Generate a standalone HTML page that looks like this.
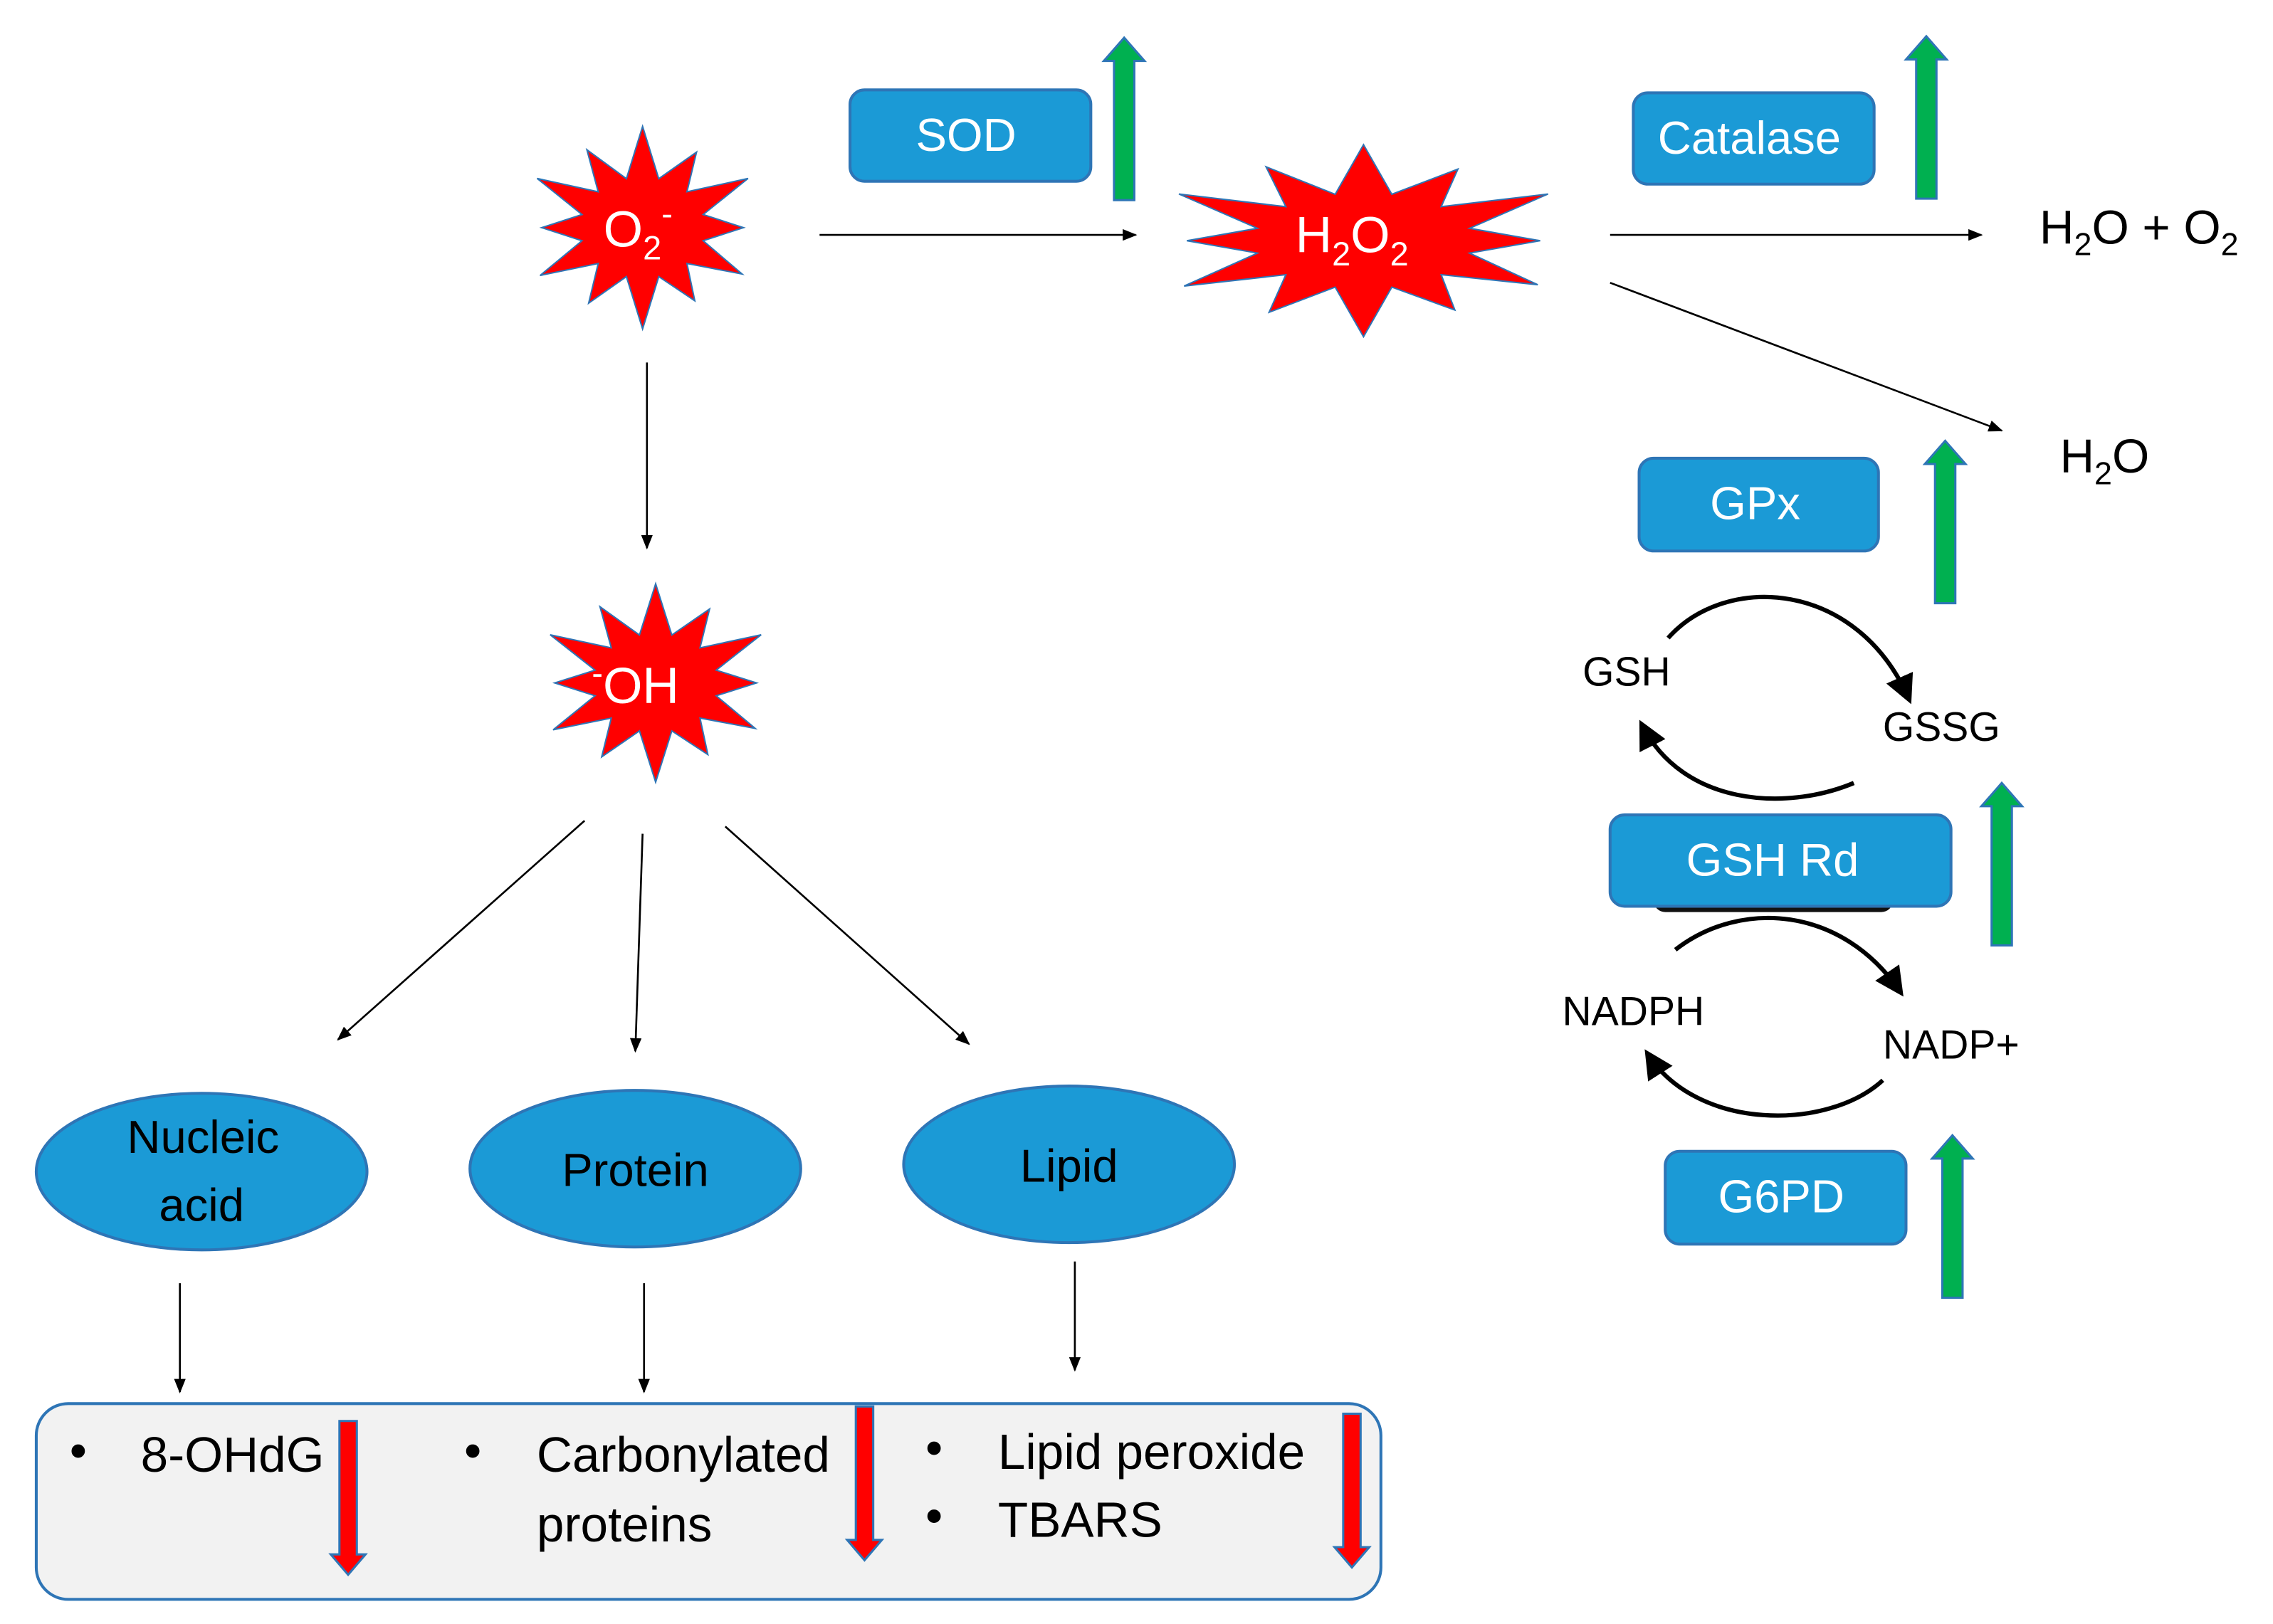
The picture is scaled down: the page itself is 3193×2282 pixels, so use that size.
<!DOCTYPE html>
<html><head><meta charset="utf-8">
<style>
html,body{margin:0;padding:0;background:#fff;}
svg{display:block;}
text{font-family:"Liberation Sans",sans-serif;}
</style></head>
<body>
<svg width="3193" height="2282" viewBox="0 0 1567 1120" preserveAspectRatio="none" xmlns="http://www.w3.org/2000/svg">
<defs>
<marker id="a" markerWidth="10" markerHeight="8" refX="9" refY="4" orient="auto" markerUnits="userSpaceOnUse">
<path d="M0,0 L10,4 L0,8 z" fill="#000"/></marker>
<marker id="b" markerWidth="22" markerHeight="20" refX="16" refY="10" orient="auto" markerUnits="userSpaceOnUse">
<path d="M0,0 L20,10 L0,20 z" fill="#000"/></marker>
<g id="ga"><path d="M-7,0 L-7,-96 L-14,-96 L0,-112 L14,-96 L7,-96 L7,0 z" fill="#00b050" stroke="#2e75b6" stroke-width="1.5"/></g>
<g id="ra"><path d="M-6,0 L-6,92 L-12,92 L0,106 L12,92 L6,92 L6,0 z" fill="#ff0000" stroke="#2e75b6" stroke-width="1.5"/></g>
<polygon id="st" points="443,85 452.3,122.2 474,103.3 468.5,131.5 503.6,122 477.8,147.7 501,157 477.8,166.3 500.2,190 468.5,182.5 473,209 452.3,191.8 443,229 433.7,191.8 412,210.7 417.5,182.5 384.1,191 408.2,166.3 385,157 408.2,147.7 382.4,122 417.5,131.5 411,101.6 433.7,122.2" fill="#ff0000" stroke="#2e75b6" stroke-width="2" vector-effect="non-scaling-stroke"/>
</defs>

<use href="#st" transform="translate(443,157) scale(1.2,0.97) translate(-443,-157)"/>
<use href="#st" transform="translate(452,471) scale(1.2,0.95) translate(-443,-157)"/>
<use href="#st" transform="translate(940,166) scale(2.1,0.92) translate(-443,-157)"/>

<text x="416" y="170" font-size="35" fill="#fff">O<tspan font-size="23" dy="9">2</tspan><tspan font-size="23" dy="-24">-</tspan></text>
<text x="893" y="174" font-size="35" fill="#fff">H<tspan font-size="23" dy="9">2</tspan><tspan dy="-9">O</tspan><tspan font-size="23" dy="9">2</tspan></text>
<text x="408" y="485" font-size="35" fill="#fff"><tspan font-size="23" dy="-13">-</tspan><tspan dy="13">OH</tspan></text>

<g stroke="#2e75b6" stroke-width="2" fill="#1b9ad6">
<rect x="586" y="62" width="166" height="63" rx="10"/>
<rect x="1126" y="64" width="166" height="63" rx="10"/>
<rect x="1130" y="316" width="165" height="64" rx="10"/>
<rect x="1140" y="612" width="165" height="17" rx="8" fill="#111" stroke="none"/>
<rect x="1110" y="562" width="235" height="63" rx="10"/>
<rect x="1148" y="794" width="166" height="64" rx="10"/>
<ellipse cx="139" cy="808" rx="114" ry="54"/>
<ellipse cx="438" cy="806" rx="114" ry="54"/>
<ellipse cx="737" cy="803" rx="114" ry="54"/>
</g>
<g fill="#fff" font-size="32" text-anchor="middle">
<text x="666" y="104">SOD</text>
<text x="1206" y="106">Catalase</text>
<text x="1210" y="358">GPx</text>
<text x="1222" y="604">GSH Rd</text>
<text x="1228" y="836">G6PD</text>
</g>
<g fill="#000" font-size="32" text-anchor="middle">
<text x="140" y="795">Nucleic</text>
<text x="139" y="842">acid</text>
<text x="438" y="818">Protein</text>
<text x="737" y="815">Lipid</text>
</g>

<use href="#ga" transform="translate(775,138)"/>
<use href="#ga" transform="translate(1328,137)"/>
<use href="#ga" transform="translate(1341,416)"/>
<use href="#ga" transform="translate(1380,652)"/>
<use href="#ga" transform="translate(1346,895)"/>

<g stroke="#000" stroke-width="1.3" marker-end="url(#a)">
<line x1="565" y1="162" x2="783" y2="162"/>
<line x1="1110" y1="162" x2="1366" y2="162"/>
<line x1="1110" y1="195" x2="1380" y2="297"/>
<line x1="446" y1="250" x2="446" y2="378"/>
<line x1="403" y1="566" x2="233" y2="717"/>
<line x1="443" y1="575" x2="438" y2="725"/>
<line x1="500" y1="570" x2="668" y2="720"/>
<line x1="124" y1="885" x2="124" y2="960"/>
<line x1="444" y1="885" x2="444" y2="960"/>
<line x1="741" y1="870" x2="741" y2="945"/>
</g>

<g stroke="#000" stroke-width="3" fill="none" marker-end="url(#b)">
<path d="M1150,440 C1190,395 1280,400 1316,482"/>
<path d="M1278,540 C1230,560 1160,555 1132,500"/>
<path d="M1155,655 C1200,620 1270,625 1310,684"/>
<path d="M1298,745 C1260,780 1170,780 1136,727"/>
</g>
<g font-size="28" fill="#000">
<text x="1091" y="473">GSH</text>
<text x="1298" y="511">GSSG</text>
<text x="1077" y="707">NADPH</text>
<text x="1298" y="730">NADP+</text>
<text x="1406" y="168" font-size="33">H<tspan font-size="22" dy="8">2</tspan><tspan dy="-8">O + O</tspan><tspan font-size="22" dy="8">2</tspan></text>
<text x="1420" y="326" font-size="33">H<tspan font-size="22" dy="8">2</tspan><tspan dy="-8">O</tspan></text>
</g>

<rect x="25" y="968" width="927" height="135" rx="22" fill="#f2f2f2" stroke="#2e75b6" stroke-width="2"/>
<g font-size="34" fill="#000">
<text x="48" y="1012">•</text><text x="97" y="1015">8-OHdG</text>
<text x="320" y="1012">•</text><text x="370" y="1015">Carbonylated</text><text x="370" y="1063">proteins</text>
<text x="638" y="1010">•</text><text x="688" y="1013">Lipid peroxide</text>
<text x="638" y="1057">•</text><text x="688" y="1060">TBARS</text>
</g>
<use href="#ra" transform="translate(240,980)"/>
<use href="#ra" transform="translate(596,970)"/>
<use href="#ra" transform="translate(932,975)"/>
</svg>
</body></html>
